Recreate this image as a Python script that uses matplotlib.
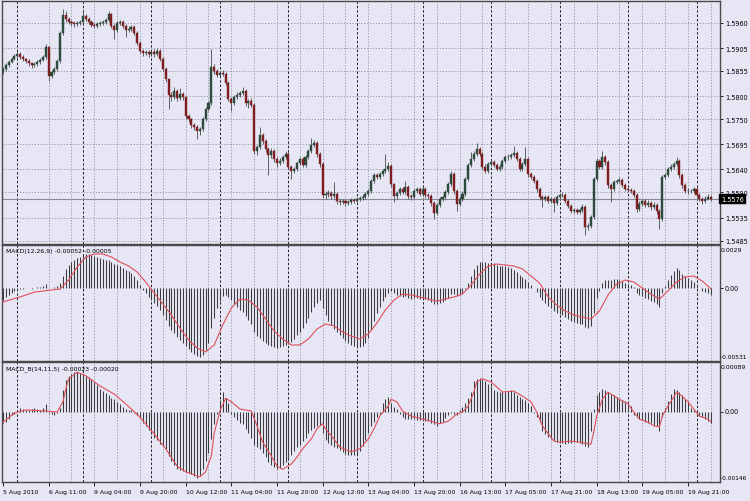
import numpy as np
import matplotlib
matplotlib.use("Agg")
import matplotlib.pyplot as plt

# ---------------- data ----------------
opens = [1.5853,1.5859,1.5868,1.5875,1.5881,1.5888,1.5892,1.5885,1.5881,1.5877,
1.5872,1.5868,1.5870,1.5875,1.5879,1.5885,1.5907,1.5844,1.5853,1.5859,
1.5877,1.5938,1.5977,1.5968,1.5962,1.5960,1.5957,1.5960,1.5962,1.5975,
1.5968,1.5962,1.5955,1.5953,1.5957,1.5960,1.5962,1.5966,1.5979,1.5953,
1.5944,1.5960,1.5962,1.5953,1.5944,1.5947,1.5951,1.5938,1.5916,1.5899,
1.5894,1.5896,1.5892,1.5896,1.5892,1.5899,1.5881,1.5859,1.5837,1.5803,
1.5798,1.5811,1.5796,1.5805,1.5798,1.5757,1.5750,1.5737,1.5733,1.5724,
1.5728,1.5750,1.5772,1.5785,1.5864,1.5855,1.5846,1.5851,1.5848,1.5829,
1.5794,1.5785,1.5798,1.5803,1.5807,1.5811,1.5785,1.5789,1.5781,1.5680,
1.5689,1.5715,1.5702,1.5685,1.5672,1.5680,1.5663,1.5654,1.5659,1.5667,
1.5674,1.5646,1.5637,1.5641,1.5654,1.5663,1.5650,1.5667,1.5680,1.5693,
1.5698,1.5674,1.5652,1.5584,1.5587,1.5589,1.5582,1.5587,1.5571,1.5569,
1.5571,1.5567,1.5569,1.5573,1.5571,1.5576,1.5578,1.5580,1.5587,1.5593,
1.5615,1.5628,1.5624,1.5630,1.5637,1.5641,1.5648,1.5608,1.5582,1.5589,
1.5597,1.5591,1.5602,1.5582,1.5580,1.5593,1.5597,1.5587,1.5597,1.5584,
1.5582,1.5567,1.5545,1.5563,1.5576,1.5580,1.5591,1.5608,1.5630,1.5593,
1.5565,1.5576,1.5587,1.5619,1.5650,1.5663,1.5674,1.5685,1.5674,1.5646,
1.5637,1.5652,1.5656,1.5650,1.5641,1.5646,1.5659,1.5667,1.5667,1.5672,
1.5676,1.5663,1.5641,1.5652,1.5663,1.5630,1.5624,1.5615,1.5597,1.5580,
1.5576,1.5580,1.5571,1.5576,1.5567,1.5580,1.5584,1.5584,1.5571,1.5560,
1.5549,1.5552,1.5547,1.5552,1.5558,1.5514,1.5517,1.5536,1.5619,1.5659,
1.5646,1.5667,1.5656,1.5606,1.5597,1.5613,1.5615,1.5617,1.5606,1.5597,
1.5595,1.5593,1.5584,1.5554,1.5565,1.5571,1.5563,1.5567,1.5558,1.5563,
1.5549,1.5532,1.5624,1.5628,1.5641,1.5646,1.5652,1.5659,1.5628,1.5606,
1.5593,1.5593,1.5593,1.5597,1.5584,1.5576,1.5571,1.5576,1.5580]

highs = [1.5863,1.5872,1.5879,1.5886,1.5892,1.5898,1.5896,1.5889,1.5884,1.5880,
1.5875,1.5874,1.5879,1.5883,1.5890,1.5914,1.5910,1.5858,1.5864,1.5881,
1.5942,1.5990,1.5986,1.5972,1.5966,1.5964,1.5964,1.5967,1.5986,1.5979,
1.5972,1.5966,1.5959,1.5961,1.5964,1.5966,1.5970,1.5986,1.5982,1.5957,
1.5964,1.5966,1.5966,1.5957,1.5952,1.5956,1.5955,1.5942,1.5920,1.5903,
1.5901,1.5900,1.5901,1.5903,1.5905,1.5903,1.5885,1.5863,1.5840,1.5809,
1.5820,1.5815,1.5818,1.5810,1.5801,1.5761,1.5753,1.5741,1.5737,1.5733,
1.5755,1.5777,1.5790,1.5903,1.5870,1.5859,1.5855,1.5857,1.5852,1.5833,
1.5798,1.5803,1.5808,1.5812,1.5820,1.5815,1.5794,1.5796,1.5785,1.5694,
1.5733,1.5720,1.5707,1.5690,1.5687,1.5685,1.5667,1.5665,1.5672,1.5680,
1.5678,1.5650,1.5646,1.5659,1.5667,1.5667,1.5672,1.5685,1.5709,1.5704,
1.5702,1.5679,1.5656,1.5593,1.5595,1.5593,1.5613,1.5591,1.5576,1.5576,
1.5575,1.5574,1.5578,1.5578,1.5580,1.5582,1.5586,1.5591,1.5598,1.5620,
1.5633,1.5632,1.5635,1.5642,1.5674,1.5656,1.5652,1.5611,1.5594,1.5602,
1.5601,1.5615,1.5606,1.5587,1.5598,1.5602,1.5601,1.5604,1.5602,1.5589,
1.5586,1.5571,1.5567,1.5580,1.5585,1.5596,1.5613,1.5637,1.5634,1.5597,
1.5582,1.5593,1.5624,1.5655,1.5678,1.5680,1.5698,1.5690,1.5678,1.5651,
1.5656,1.5661,1.5660,1.5654,1.5651,1.5663,1.5672,1.5673,1.5677,1.5691,
1.5680,1.5667,1.5657,1.5689,1.5667,1.5635,1.5628,1.5619,1.5601,1.5585,
1.5585,1.5584,1.5581,1.5580,1.5585,1.5589,1.5591,1.5588,1.5575,1.5564,
1.5557,1.5556,1.5557,1.5565,1.5562,1.5524,1.5541,1.5624,1.5665,1.5663,
1.5680,1.5672,1.5660,1.5611,1.5618,1.5620,1.5624,1.5621,1.5610,1.5602,
1.5599,1.5597,1.5588,1.5571,1.5576,1.5576,1.5573,1.5571,1.5569,1.5567,
1.5553,1.5628,1.5633,1.5646,1.5652,1.5657,1.5667,1.5663,1.5632,1.5611,
1.5599,1.5598,1.5602,1.5601,1.5589,1.5580,1.5582,1.5586,1.5584]

lows = [1.5848,1.5855,1.5864,1.5872,1.5878,1.5884,1.5881,1.5877,1.5872,1.5866,
1.5862,1.5864,1.5866,1.5871,1.5876,1.5882,1.5833,1.5839,1.5849,1.5855,
1.5873,1.5933,1.5962,1.5957,1.5953,1.5951,1.5953,1.5955,1.5958,1.5964,
1.5957,1.5950,1.5948,1.5949,1.5953,1.5956,1.5958,1.5962,1.5948,1.5925,
1.5940,1.5955,1.5948,1.5929,1.5940,1.5943,1.5934,1.5911,1.5894,1.5888,
1.5889,1.5886,1.5888,1.5886,1.5888,1.5877,1.5855,1.5831,1.5772,1.5790,
1.5794,1.5790,1.5792,1.5792,1.5752,1.5744,1.5731,1.5726,1.5707,1.5715,
1.5724,1.5746,1.5768,1.5781,1.5848,1.5841,1.5842,1.5844,1.5824,1.5789,
1.5768,1.5781,1.5794,1.5798,1.5802,1.5779,1.5775,1.5776,1.5674,1.5672,
1.5685,1.5696,1.5678,1.5628,1.5665,1.5657,1.5646,1.5650,1.5654,1.5663,
1.5641,1.5619,1.5632,1.5637,1.5650,1.5645,1.5646,1.5663,1.5676,1.5689,
1.5668,1.5646,1.5578,1.5576,1.5580,1.5576,1.5578,1.5565,1.5563,1.5565,
1.5561,1.5562,1.5565,1.5566,1.5567,1.5571,1.5573,1.5576,1.5582,1.5589,
1.5611,1.5619,1.5620,1.5626,1.5632,1.5637,1.5602,1.5569,1.5576,1.5584,
1.5586,1.5587,1.5576,1.5574,1.5576,1.5589,1.5582,1.5583,1.5578,1.5576,
1.5561,1.5532,1.5540,1.5558,1.5571,1.5576,1.5587,1.5604,1.5587,1.5549,
1.5560,1.5571,1.5582,1.5615,1.5645,1.5658,1.5669,1.5669,1.5641,1.5632,
1.5633,1.5647,1.5645,1.5636,1.5637,1.5642,1.5654,1.5661,1.5662,1.5667,
1.5658,1.5636,1.5637,1.5648,1.5624,1.5619,1.5610,1.5591,1.5574,1.5558,
1.5571,1.5566,1.5567,1.5547,1.5563,1.5576,1.5579,1.5566,1.5555,1.5544,
1.5545,1.5542,1.5543,1.5548,1.5497,1.5508,1.5512,1.5532,1.5615,1.5641,
1.5641,1.5650,1.5600,1.5569,1.5593,1.5609,1.5611,1.5602,1.5593,1.5591,
1.5588,1.5580,1.5547,1.5549,1.5560,1.5558,1.5558,1.5552,1.5554,1.5543,
1.5510,1.5528,1.5619,1.5624,1.5636,1.5641,1.5648,1.5622,1.5600,1.5588,
1.5587,1.5588,1.5589,1.5579,1.5571,1.5565,1.5567,1.5574,1.5572]

closes = [1.5859,1.5868,1.5875,1.5881,1.5888,1.5892,1.5885,1.5881,1.5877,1.5872,
1.5868,1.5870,1.5875,1.5879,1.5885,1.5907,1.5844,1.5853,1.5859,1.5877,
1.5938,1.5977,1.5968,1.5962,1.5960,1.5957,1.5960,1.5962,1.5975,1.5968,
1.5962,1.5955,1.5953,1.5957,1.5960,1.5962,1.5966,1.5979,1.5953,1.5944,
1.5960,1.5962,1.5953,1.5944,1.5947,1.5951,1.5938,1.5916,1.5899,1.5894,
1.5896,1.5892,1.5896,1.5892,1.5899,1.5881,1.5859,1.5837,1.5803,1.5798,
1.5811,1.5796,1.5805,1.5798,1.5757,1.5750,1.5737,1.5733,1.5724,1.5728,
1.5750,1.5772,1.5785,1.5864,1.5855,1.5846,1.5851,1.5848,1.5829,1.5794,
1.5785,1.5798,1.5803,1.5807,1.5811,1.5785,1.5789,1.5781,1.5680,1.5689,
1.5715,1.5702,1.5685,1.5672,1.5680,1.5663,1.5654,1.5659,1.5667,1.5674,
1.5646,1.5637,1.5641,1.5654,1.5663,1.5650,1.5667,1.5680,1.5693,1.5698,
1.5674,1.5652,1.5584,1.5587,1.5589,1.5582,1.5587,1.5571,1.5569,1.5571,
1.5567,1.5569,1.5573,1.5571,1.5576,1.5578,1.5580,1.5587,1.5593,1.5615,
1.5628,1.5624,1.5630,1.5637,1.5641,1.5648,1.5608,1.5582,1.5589,1.5597,
1.5591,1.5602,1.5582,1.5580,1.5593,1.5597,1.5587,1.5597,1.5584,1.5582,
1.5567,1.5545,1.5563,1.5576,1.5580,1.5591,1.5608,1.5630,1.5593,1.5565,
1.5576,1.5587,1.5619,1.5650,1.5663,1.5674,1.5685,1.5674,1.5646,1.5637,
1.5652,1.5656,1.5650,1.5641,1.5646,1.5659,1.5667,1.5667,1.5672,1.5676,
1.5663,1.5641,1.5652,1.5663,1.5630,1.5624,1.5615,1.5597,1.5580,1.5576,
1.5580,1.5571,1.5576,1.5567,1.5580,1.5584,1.5584,1.5571,1.5560,1.5549,
1.5552,1.5547,1.5552,1.5558,1.5514,1.5517,1.5536,1.5619,1.5659,1.5646,
1.5667,1.5656,1.5606,1.5597,1.5613,1.5615,1.5617,1.5606,1.5597,1.5595,
1.5593,1.5584,1.5554,1.5565,1.5571,1.5563,1.5567,1.5558,1.5563,1.5549,
1.5532,1.5624,1.5628,1.5641,1.5646,1.5652,1.5659,1.5628,1.5606,1.5593,
1.5593,1.5593,1.5597,1.5584,1.5576,1.5571,1.5576,1.5580,1.5576]

# MACD(12,26,9): main values (histogram), in units of 1e-5
macd_main_e5 = [-86,-64,-50,-36,-21,-14,-7,-7,2,-3,
-7,-2,7,7,14,29,2,-3,7,14,
36,86,136,164,186,200,214,221,243,243,
243,236,228,221,214,207,200,200,186,171,
164,157,143,129,121,107,86,57,21,-14,
-36,-64,-86,-107,-129,-157,-193,-228,-271,-300,
-321,-350,-371,-393,-414,-436,-457,-471,-486,-493,
-478,-443,-393,-286,-214,-143,-93,-57,-50,-64,
-86,-114,-136,-157,-171,-200,-228,-257,-314,-343,
-357,-378,-393,-407,-414,-421,-428,-421,-414,-407,
-400,-386,-364,-336,-314,-286,-250,-214,-171,-136,
-107,-86,-143,-193,-236,-264,-293,-314,-336,-357,
-378,-393,-407,-414,-421,-421,-414,-393,-357,-300,
-236,-178,-136,-93,-64,-36,-21,-36,-50,-57,
-64,-57,-71,-79,-71,-71,-79,-71,-79,-86,
-100,-114,-114,-107,-100,-86,-71,-43,-43,-57,
-50,-36,-7,36,86,136,164,186,186,186,
178,178,178,164,157,157,157,150,143,129,
114,93,79,64,43,21,2,-29,-64,-86,
-107,-129,-143,-164,-178,-186,-193,-207,-221,-236,
-243,-250,-257,-257,-278,-286,-271,-178,-71,-21,
36,57,57,57,64,64,57,50,36,29,
21,7,-36,-50,-57,-71,-79,-93,-100,-114,
-136,-36,14,57,93,121,143,129,100,86,
71,57,43,21,-2,-21,-29,-36,-52]

# MACD(12,26,9): signal line points (bar index, value in 1e-5)
macd_signal_bars = [0,7,11,17,20,23,26,29,32,35,38,41,44,47,50,53,56,59,62,65,
68,71,74,77,80,83,86,89,92,95,98,101,104,107,110,113,116,119,122,125,
128,131,134,137,140,143,146,149,152,155,158,161,164,167,170,173,176,179,182,185,
188,191,194,197,200,203,206,209,212,215,218,221,224,227,230,233,236,239,242,245,248]
macd_signal_e5 = [-100,-57,-29,-14,-7,57,150,221,243,243,221,186,157,114,43,-36,-114,-193,-286,-371,
-428,-457,-407,-264,-143,-79,-86,-136,-221,-307,-364,-407,-407,-364,-293,-257,-271,-314,-343,-364,
-328,-250,-157,-86,-43,-50,-64,-79,-93,-79,-64,-43,21,100,157,171,164,157,136,86,
36,-64,-121,-164,-193,-207,-221,-164,-50,29,57,43,0,-43,-79,-21,43,79,86,50,-5]

# MACD_B(14,11,5): main values (histogram), in units of 1e-5
macdb_main_e5 = [-23,-20,-14,-6,-4,2,6,4,2,2,
4,6,4,2,6,14,-2,-4,-6,-2,
6,43,61,69,74,78,78,76,74,70,
67,63,57,51,45,41,37,33,27,25,
18,14,8,4,2,2,-2,-6,-12,-22,
-29,-37,-45,-51,-55,-63,-67,-74,-88,-96,
-104,-112,-114,-116,-119,-121,-123,-127,-131,-125,
-112,-96,-82,-53,-25,-4,23,39,27,16,
-4,-10,-16,-22,-25,-35,-43,-51,-65,-70,
-74,-82,-90,-98,-104,-108,-112,-110,-104,-98,
-92,-86,-78,-70,-65,-57,-51,-43,-37,-33,
-29,-27,-43,-55,-61,-65,-69,-72,-76,-80,
-84,-86,-86,-86,-84,-78,-67,-55,-43,-29,
-20,-10,-4,16,25,29,16,8,4,-4,
-10,-14,-14,-14,-14,-16,-16,-16,-18,-18,
-22,-25,-29,-23,-20,-12,-6,-2,-4,-6,
2,8,16,27,39,59,63,65,63,59,
53,49,43,41,39,39,39,41,43,39,
33,29,25,23,16,10,-2,-10,-20,-39,
-45,-49,-53,-55,-59,-61,-61,-63,-61,-61,
-59,-59,-61,-63,-67,-69,-39,4,33,39,
45,43,39,35,33,29,25,22,20,14,
10,-6,-10,-14,-16,-20,-22,-23,-27,-29,
-39,-10,6,20,35,45,43,39,33,25,
20,6,2,-4,-8,-10,-14,-18,-23]

# MACD_B(14,11,5): signal line points (bar index, value in 1e-5)
macdb_signal_bars = [0,4,8,15,19,21,22,23,26,29,34,39,43,48,53,57,61,64,69,71,
73,74,76,78,80,83,87,89,91,94,96,98,101,103,105,108,110,112,113,116,
118,122,125,128,130,132,135,136,138,140,143,146,150,153,156,159,161,163,165,166,
168,171,173,175,179,182,185,187,189,193,195,199,202,206,207,208,210,212,213,216,
219,221,223,226,228,230,231,233,235,236,238,240,242,244,247,248]
macdb_signal_e5 = [-21,-3,3,1,-1,19,44,64,77,70,50,34,15,-11,-44,-73,-107,-118,-128,-118,
-87,-42,1,26,19,5,1,-28,-60,-87,-107,-113,-103,-89,-73,-54,-34,-24,-34,-54,
-70,-79,-73,-54,-34,-9,11,24,19,1,-9,-13,-19,-24,-19,-5,-1,11,38,58,
64,58,48,38,40,30,19,-1,-28,-58,-60,-58,-60,-64,-40,-9,24,38,34,24,
15,-1,-15,-21,-28,-30,-9,11,28,38,30,19,5,-9,-15,-20]

date_tick_bars = [0,16,32,48,64,80,96,112,128,144,160,176,192,208,224,240]
date_tick_labels = ['5 Aug 2010','6 Aug 11:00','9 Aug 04:00','9 Aug 20:00','10 Aug 12:00',
                    '11 Aug 04:00','11 Aug 20:00','12 Aug 12:00','13 Aug 04:00','13 Aug 20:00',
                    '16 Aug 13:00','17 Aug 05:00','17 Aug 21:00','18 Aug 13:00','19 Aug 05:00',
                    '19 Aug 21:00']
day_separator_bars = [5,28,52,76,100,124,147,171,195,219,243]
price_ticks = [1.5960,1.5905,1.5855,1.5800,1.5750,1.5695,1.5640,1.5590,1.5535,1.5485]
last_price = 1.5576
macd_scale_labels = ['0.0029','0.00','-0.00531']
macdb_scale_labels = ['0.00089','0.00','-0.00146']
macd_title = 'MACD(12,26,9) -0.00052 -0.00005'
macdb_title = 'MACD_B(14,11,5) -0.00023 -0.00020'

# ---------------- style ----------------
BG = '#E6E6F5'
UP = '#2E4A3A'
DN = '#7E1E1E'
WICK = '#4A4A4A'
HIST = '#3C3C3C'
SIG = '#E0505A'
GRID = '#8E8E9E'
SEP = '#1E1E1E'
FRAME = '#4A4A4A'
FS = 4.7
FS_DATE = 4.4
plt.rcParams['font.family'] = ['DejaVu Sans']

W, H = 750, 502
fig = plt.figure(figsize=(W / 100, H / 100), dpi=100, facecolor=BG)

def ax_at(x0, y0, x1, y1):
    a = fig.add_axes([x0 / W, 1 - y1 / H, (x1 - x0) / W, (y1 - y0) / H])
    a.set_facecolor(BG)
    for s in a.spines.values():
        s.set_color(FRAME)
        s.set_linewidth(1.0)
    return a

# pixel geometry of panels
P1 = (2, 2, 720, 245)
P2 = (2, 246, 720, 362)
P3 = (2, 363, 720, 483)
ax1 = ax_at(*P1)
ax2 = ax_at(*P2)
ax3 = ax_at(*P3)

# x scale: bar i sits at pixel 3 + 2.854 i
BAR_PX = 2.854
X0PX = 3.0
def px_to_bar(px):
    return (px - X0PX) / BAR_PX
xlim = (px_to_bar(P1[0]), px_to_bar(P1[2]))

# price scale (price per pixel)
PPP = 0.0002182
P_AT0 = 1.6012
ax1.set_ylim(P_AT0 - PPP * P1[3], P_AT0 - PPP * P1[1])

# MACD scales: zero line pixel and value per pixel
Z2, S2 = 289.0, 7.14e-5
ax2.set_ylim(-(P2[3] - Z2) * S2, (Z2 - P2[1]) * S2)
Z3, S3 = 412.5, 1.958e-5
ax3.set_ylim(-(P3[3] - Z3) * S3, (Z3 - P3[1]) * S3)

for a in (ax1, ax2, ax3):
    a.set_xlim(*xlim)
    for b in range(16, len(closes) + 1, 8):
        a.axvline(b, color=GRID, lw=0.6, ls=(0, (1.5, 2.0)), zorder=1)
    for b in day_separator_bars:
        a.axvline(b, color=SEP, lw=0.7, ls=(0, (2.5, 2.0)), zorder=1)
    a.tick_params(axis='x', which='both', bottom=False, labelbottom=False)

# ---- main price panel ----
x = np.arange(len(closes))
o = np.array(opens); h = np.array(highs); l = np.array(lows); c = np.array(closes)
for p in price_ticks:
    ax1.axhline(p, color=GRID, lw=0.6, ls=(0, (1.5, 2.0)), zorder=1)
ax1.axhline(last_price, color='#8A8A96', lw=0.8, zorder=2)
ax1.vlines(x, l, h, color=WICK, lw=0.6, zorder=3)
up = c >= o
ax1.bar(x[up], (c - o)[up], bottom=o[up], width=0.72, color=UP, edgecolor=UP, linewidth=0.3, zorder=4)
ax1.bar(x[~up], (c - o)[~up], bottom=o[~up], width=0.72, color=DN, edgecolor=DN, linewidth=0.3, zorder=4)
ax1.yaxis.tick_right()
ax1.set_yticks(price_ticks)
ax1.set_yticklabels(['%.4f' % p for p in price_ticks])
ax1.tick_params(axis='y', direction='out', length=2.5, width=0.6, pad=1.5,
                labelsize=FS, colors='black', left=False, right=True)
ax1.text(1.0015, last_price, '%.4f' % last_price, transform=ax1.get_yaxis_transform(),
         ha='left', va='center', fontsize=FS, color='white', zorder=10, clip_on=False,
         bbox=dict(boxstyle='square,pad=0.25', fc='black', ec='black'))

# ---- MACD panel ----
mm = np.array(macd_main_e5) * 1e-5
ax2.vlines(x, 0, mm, color=HIST, lw=0.75, zorder=3)
ax2.plot(macd_signal_bars, np.array(macd_signal_e5) * 1e-5, color=SIG, lw=0.8, zorder=4)
ax2.text(0.006, 0.975, macd_title, transform=ax2.transAxes, ha='left', va='top', fontsize=FS_DATE, zorder=6)

# ---- MACD_B panel ----
mb = np.array(macdb_main_e5) * 1e-5
ax3.vlines(x, 0, mb, color=HIST, lw=0.75, zorder=3)
ax3.plot(macdb_signal_bars, np.array(macdb_signal_e5) * 1e-5, color=SIG, lw=0.8, zorder=4)
ax3.text(0.006, 0.975, macdb_title, transform=ax3.transAxes, ha='left', va='top', fontsize=FS_DATE, zorder=6)

for a, labs in ((ax2, macd_scale_labels), (ax3, macdb_scale_labels)):
    a.set_yticks([0])
    a.set_yticklabels([''])
    a.yaxis.tick_right()
    a.tick_params(axis='y', direction='out', length=2.5, width=0.6, left=False, right=True)
    tr = a.get_yaxis_transform()
    a.text(1.0015, 0.985, labs[0], transform=a.transAxes, ha='left', va='top', fontsize=4.4)
    a.text(1.006, 0, labs[1], transform=tr, ha='left', va='center', fontsize=FS)
    a.text(1.0015, 0.015, labs[2], transform=a.transAxes, ha='left', va='bottom', fontsize=4.2)

# ---- time axis ----
ax3.set_xticks(date_tick_bars)
ax3.set_xticklabels(date_tick_labels)
ax3.tick_params(axis='x', bottom=True, labelbottom=True, direction='out', length=3,
                width=0.6, pad=2, labelsize=FS_DATE, colors='black')
for t in ax3.get_xticklabels():
    t.set_horizontalalignment('left')

fig.savefig('out.png', dpi=100, facecolor=BG)
